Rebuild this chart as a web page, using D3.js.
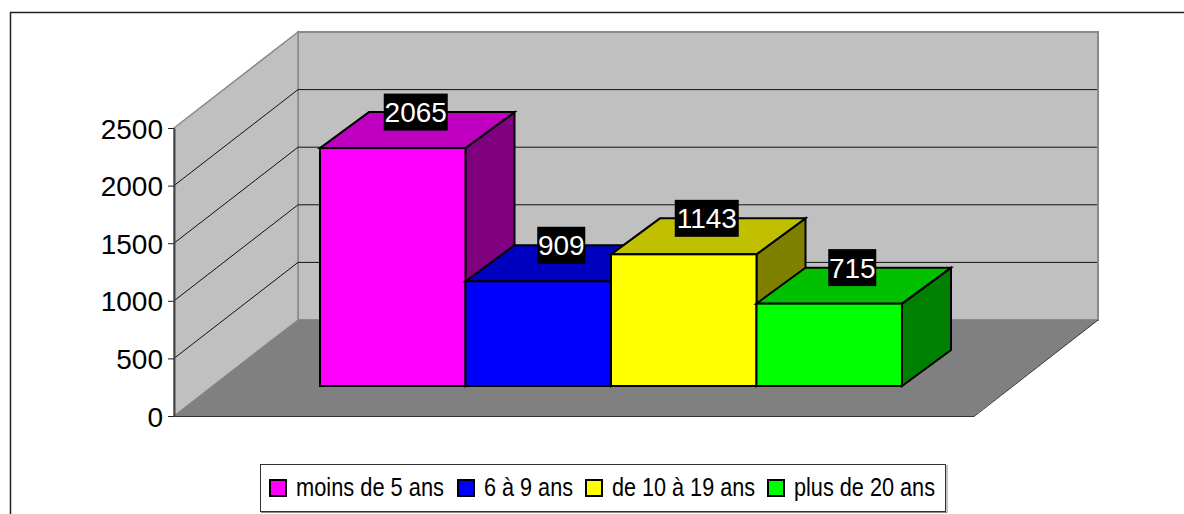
<!DOCTYPE html>
<html><head><meta charset="utf-8">
<script src="https://cdn.jsdelivr.net/npm/d3@7"></script>
<style>html,body{margin:0;padding:0;background:#fff;overflow:hidden}svg{display:block}text{font-family:"Liberation Sans",Arial,sans-serif}</style>
</head><body><svg id="c" width="1184" height="514"></svg>
<script>
const categories = ["moins de 5 ans","6 à 9 ans","de 10 à 19 ans","plus de 20 ans"];
const values = [2065,909,1143,715];
const tickValues = [0,500,1000,1500,2000,2500];
const frontColors = ["#ff00ff","#0000ff","#ffff00","#00ff00"];
const topColors = ["#c000c0","#0000c0","#c0c000","#00c000"];
const sideColors = ["#800080","#000080","#808000","#008000"];
const legendSwatchX = [270,458,586,768];
const legendTextX = [296,484,612,794];
const legendTextW = [148,89,143,141];

const svg = d3.select("#c");
const y = d3.scaleLinear().domain([0,2500]).range([288,0]);
const wall = {x0:174,x1:974,yBase:416,dx:124,dy:-96};
const bar = {x0:320,x1:902,yBase:386,dx:49,dy:-36};
const x = d3.scaleBand().domain(categories).range([bar.x0,bar.x1]);
const poly = pts => pts.map(p=>p.join(",")).join(" ");
const hTop = wall.yBase-288;

// outer frame
svg.append("path").attr("d","M10.5,520V12.5H1190").attr("fill","none").attr("stroke","#222").attr("stroke-width",1.5);

// walls and floor
svg.append("polygon").attr("points",poly([[wall.x0+wall.dx,hTop+wall.dy],[wall.x1+wall.dx,hTop+wall.dy],[wall.x1+wall.dx,wall.yBase+wall.dy],[wall.x0+wall.dx,wall.yBase+wall.dy]]))
  .attr("fill","#c0c0c0").attr("stroke","#8a8a8a").attr("stroke-width",2);
svg.append("polygon").attr("points",poly([[wall.x0,hTop],[wall.x0+wall.dx,hTop+wall.dy],[wall.x0+wall.dx,wall.yBase+wall.dy],[wall.x0,wall.yBase]]))
  .attr("fill","#c0c0c0").attr("stroke","#8a8a8a").attr("stroke-width",1.5);
svg.append("polygon").attr("points",poly([[wall.x0,wall.yBase],[wall.x1,wall.yBase],[wall.x1+wall.dx,wall.yBase+wall.dy],[wall.x0+wall.dx,wall.yBase+wall.dy]]))
  .attr("fill","#808080");
svg.append("path").attr("d",`M${wall.x0},${wall.yBase+.5}H${wall.x1}L${wall.x1+wall.dx},${wall.yBase+wall.dy}`)
  .attr("fill","none").attr("stroke","#333").attr("stroke-width",1);

// gridlines
const grid = svg.append("g").attr("fill","none").attr("stroke","#111").attr("stroke-width",1);
tickValues.filter(t=>t>0&&t<2500).forEach(t=>{
  const yy = y(t)+hTop;
  grid.append("path").attr("d",`M${wall.x0},${yy}L${wall.x0+wall.dx},${yy+wall.dy}H${wall.x1+wall.dx-1}`);
});

// axis
const axisScale = d3.scaleLinear().domain([0,2500]).range([wall.yBase,hTop]);
const axis = svg.append("g").attr("transform",`translate(${wall.x0},0)`)
  .call(d3.axisLeft(axisScale).tickValues(tickValues).tickSize(6).tickPadding(5).tickSizeOuter(0).tickFormat(d3.format("d")));
axis.select(".domain").attr("stroke","#444").attr("stroke-width",2);
axis.selectAll(".tick line").attr("stroke","#222");
axis.selectAll("text").attr("font-size",28).attr("fill","#000").attr("font-family","Liberation Sans").attr("dy","0.36em");

// bars
const bars = svg.append("g").attr("stroke","#000").attr("stroke-width",2).attr("stroke-linejoin","miter");
categories.forEach((c,i)=>{
  const l=x(c), r=l+x.bandwidth(), b=bar.yBase, t=b-y(0)+y(values[i]), dx=bar.dx, dy=bar.dy;
  bars.append("polygon").attr("points",poly([[r,t],[r+dx,t+dy],[r+dx,b+dy],[r,b]])).attr("fill",sideColors[i]);
  bars.append("polygon").attr("points",poly([[l,t],[l+dx,t+dy],[r+dx,t+dy],[r,t]])).attr("fill",topColors[i]);
  bars.append("rect").attr("x",l).attr("y",t).attr("width",r-l).attr("height",b-t).attr("fill",frontColors[i]);
});

// data labels: centred on the back edge of each bar's top face
const labels = svg.append("g");
categories.forEach((c,i)=>{
  const cx = x(c)+x.bandwidth()/2+bar.dx/2-1.5, yc = bar.yBase-y(0)+y(values[i])+bar.dy;
  const txt = String(values[i]);
  const w = txt.length*16, h = 37;
  labels.append("rect").attr("x",cx-w/2).attr("y",yc-h/2).attr("width",w).attr("height",h).attr("fill","#000");
  labels.append("text").attr("x",cx).attr("y",yc).attr("dy","0.36em").attr("text-anchor","middle")
    .attr("font-size",28).attr("fill","#fff").text(txt);
});

// legend
const lg = svg.append("g");
lg.append("rect").attr("x",260.5).attr("y",464.5).attr("width",685).attr("height",47).attr("fill","#fff").attr("stroke","#333");
lg.append("path").attr("d","M261,512.5H947V465").attr("fill","none").attr("stroke","#888").attr("stroke-width",1);
categories.forEach((c,i)=>{
  lg.append("rect").attr("x",legendSwatchX[i]).attr("y",480).attr("width",16).attr("height",16)
    .attr("fill",frontColors[i]).attr("stroke","#000").attr("stroke-width",2);
  lg.append("text").attr("x",legendTextX[i]).attr("y",496).attr("font-size",25).attr("fill","#000")
    .attr("textLength",legendTextW[i]).attr("lengthAdjust","spacingAndGlyphs").text(c);
});
</script></body></html>
